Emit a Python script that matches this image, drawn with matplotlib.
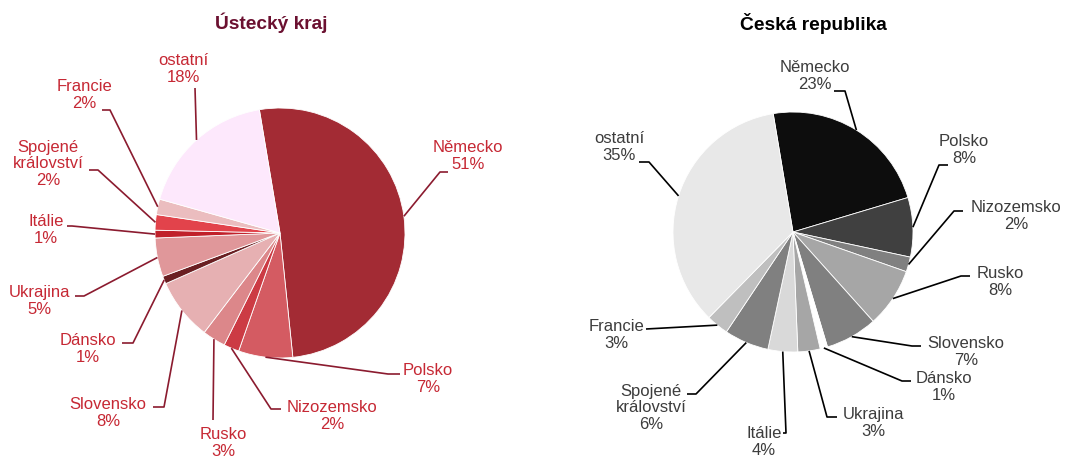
import matplotlib
matplotlib.use('Agg')
import matplotlib.pyplot as plt
import numpy as np

plt.rcParams['font.family'] = ['Liberation Sans', 'DejaVu Sans']

W, H = 1067, 457

# ---------------- data ----------------
categories = ['Německo', 'Polsko', 'Nizozemsko', 'Rusko', 'Slovensko', 'Dánsko',
              'Ukrajina', 'Itálie', 'Spojené\nkrálovství', 'Francie', 'ostatní']
values_ustecky = [51, 7, 2, 3, 8, 1, 5, 1, 2, 2, 18]
values_cr = [23, 8, 2, 8, 7, 1, 3, 4, 6, 3, 35]
title_ustecky = 'Ústecký kraj'
title_cr = 'Česká republika'

# ---------------- styles ----------------
colors_ustecky = ['#A32B34', '#D45B62', '#CC3B44', '#DC878A', '#E6B0B2', '#6A1F22',
                  '#E0979A', '#C0202A', '#E2434B', '#EBBDBF', '#FDE8FC']
colors_cr = ['#0D0D0D', '#404040', '#808080', '#A6A6A6', '#808080', '#FFFFFF',
             '#A6A6A6', '#D9D9D9', '#808080', '#BFBFBF', '#E8E8E8']

# layout (pixel coordinates, y from top)
center_ustecky, radius_ustecky = (280, 233), 125
center_cr, radius_cr = (793, 232), 120
start_angle = 99.5

label_pos_ustecky = [(468, 156), (428, 379), (332, 416), (223, 443), (108, 413), (88, 349),
                     (39, 301), (46, 230), (48, 164), (84, 95), (183, 69)]
elbow_ustecky = [((440, 172), (448, 172)), ((388, 374), (400, 374)), ((271, 409), (281, 409)),
                 ((213, 420), (213, 420)), ((164, 407), (153, 407)), ((133, 343), (122, 343)),
                 ((84, 296), (75, 296)), ((72, 226), (67, 226)), ((98, 170), (89, 170)),
                 ((110, 110), (102, 110)), ((195, 88), (195, 88))]

label_pos_cr = [(815, 76), (964, 150), (1016, 216), (1000, 282), (966, 352), (944, 387),
                (873, 423), (764, 442), (651, 408), (616, 335), (619, 147)]
elbow_cr = [((845, 91), (834, 91)), ((939, 165), (948, 165)), ((954, 211), (963, 211)),
            ((961, 276), (970, 276)), ((912, 346), (921, 346)), ((902, 381), (911, 381)),
            ((827, 417), (837, 417)), ((786, 433), (783, 433)), ((696, 394), (687, 394)),
            ((646, 329), (646, 329)), ((649, 162), (639, 162))]

fig = plt.figure(figsize=(W / 100, H / 100), dpi=100)
ax = fig.add_axes([0, 0, 1, 1])
ax.set_xlim(0, W)
ax.set_ylim(0, H)
ax.set_aspect('equal')
ax.axis('off')


def fy(y):
    return H - y


def draw_pie(values, colors, center, radius, label_pos, elbows, text_color, line_color,
             title, title_color, title_x):
    cx, cy = center
    wedges, _ = ax.pie(values, colors=colors, startangle=start_angle, counterclock=False,
                       center=(cx, fy(cy)), radius=radius, normalize=True,
                       wedgeprops=dict(edgecolor='white', linewidth=0.6))
    for w, cat, v, (lx, ly), (e1, e2) in zip(wedges, categories, values, label_pos, elbows):
        mid = np.deg2rad((w.theta1 + w.theta2) / 2)
        sx = cx + radius * np.cos(mid)
        sy = fy(cy) + radius * np.sin(mid)
        ax.plot([sx, e1[0], e2[0]], [sy, fy(e1[1]), fy(e2[1])], color=line_color,
                lw=1.2, solid_capstyle='butt', zorder=3)
        ax.text(lx, fy(ly), f'{cat}\n{v}%', ha='center', va='center', fontsize=12,
                color=text_color, linespacing=1.15)
    ax.text(title_x, fy(23), title, ha='center', va='center', fontsize=13.8,
            fontweight='bold', color=title_color)


draw_pie(values_ustecky, colors_ustecky, center_ustecky, radius_ustecky, label_pos_ustecky,
         elbow_ustecky, '#C62834', '#8B1B2F', title_ustecky, '#6B1030', 271)
draw_pie(values_cr, colors_cr, center_cr, radius_cr, label_pos_cr, elbow_cr,
         '#3C3C3C', '#000000', title_cr, '#000000', 813)

ax.set_xlim(0, W)
ax.set_ylim(0, H)
fig.savefig('out.png', dpi=100)
